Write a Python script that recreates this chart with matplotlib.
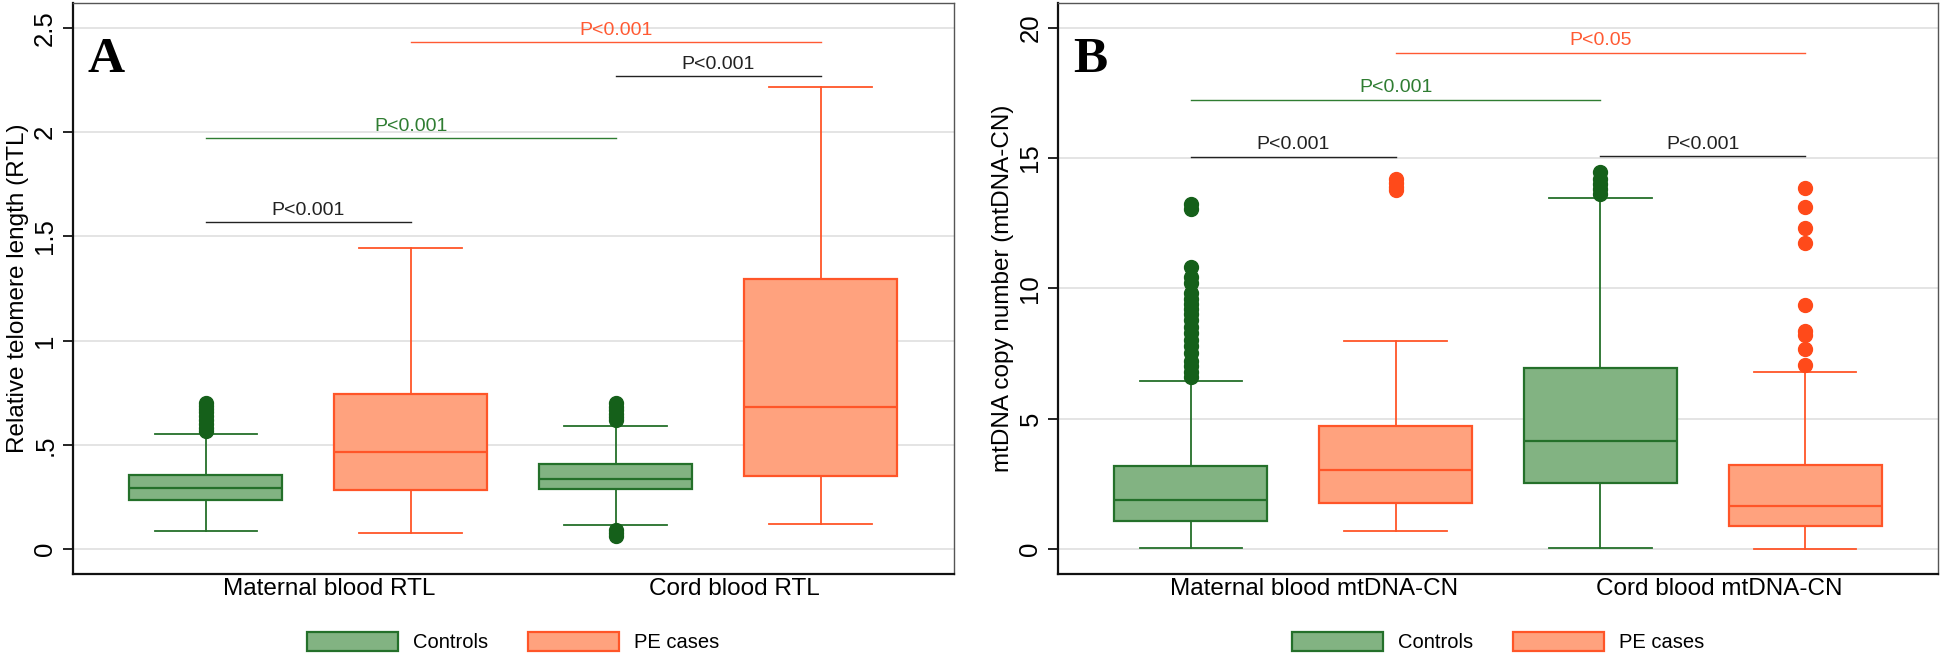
import matplotlib
matplotlib.use('Agg')
import matplotlib.pyplot as plt
from matplotlib.patches import Patch

plt.rcParams.update({
    'font.family': ['Liberation Sans', 'DejaVu Sans'],
    'axes.linewidth': 1.4,
})

# ── Data ────────────────────────────────────────────────────────────
groups = ['Controls', 'PE cases']

# Panel A: relative telomere length, order: maternal ctrl, maternal PE, cord ctrl, cord PE
rtl_q1 = [0.236, 0.281, 0.289, 0.350]
rtl_med = [0.292, 0.466, 0.337, 0.681]
rtl_q3 = [0.356, 0.743, 0.407, 1.297]
rtl_lo = [0.088, 0.075, 0.116, 0.118]
rtl_hi = [0.550, 1.443, 0.588, 2.217]
rtl_out = [
    [0.565, 0.58, 0.60, 0.62, 0.64, 0.655, 0.67, 0.685, 0.70],
    [],
    [0.06, 0.075, 0.09, 0.62, 0.635, 0.65, 0.665, 0.68, 0.70],
    [],
]
rtl_cats = ['Maternal blood RTL', 'Cord blood RTL']
rtl_ticks = [0, 0.5, 1, 1.5, 2, 2.5]
rtl_ticklabels = ['0', '.5', '1', '1.5', '2', '2.5']

# Panel B: mtDNA copy number
cn_q1 = [1.06, 1.75, 2.52, 0.87]
cn_med = [1.88, 3.02, 4.15, 1.66]
cn_q3 = [3.20, 4.72, 6.93, 3.22]
cn_lo = [0.03, 0.70, 0.03, 0.0]
cn_hi = [6.43, 7.97, 13.45, 6.78]
cn_out = [
    [6.6, 6.8, 7.0, 7.2, 7.5, 7.8, 8.0, 8.3, 8.5, 8.8, 9.0, 9.2, 9.4, 9.6,
     9.8, 10.2, 10.45, 10.8, 13.05, 13.25],
    [13.75, 13.9, 14.05, 14.2],
    [13.6, 13.8, 14.0, 14.2, 14.45],
    [7.07, 7.67, 8.2, 8.35, 9.35, 11.75, 12.3, 13.1, 13.84],
]
cn_cats = ['Maternal blood mtDNA-CN', 'Cord blood mtDNA-CN']
cn_ticks = [0, 5, 10, 15, 20]
cn_ticklabels = ['0', '5', '10', '15', '20']

# comparisons: (box i, box j, line height, label, kind)
rtl_comps = [
    (0, 1, 1.567, 'P<0.001', 'within'),
    (0, 2, 1.970, 'P<0.001', 'ctrl'),
    (2, 3, 2.267, 'P<0.001', 'within'),
    (1, 3, 2.431, 'P<0.001', 'case'),
]
cn_comps = [
    (0, 1, 15.04, 'P<0.001', 'within'),
    (0, 2, 17.23, 'P<0.001', 'ctrl'),
    (2, 3, 15.07, 'P<0.001', 'within'),
    (1, 3, 19.04, 'P<0.05', 'case'),
]

# ── Style ───────────────────────────────────────────────────────────
fill = {'Controls': '#82b382', 'PE cases': '#ffa27e'}
edge = {'Controls': '#24702a', 'PE cases': '#ff5528'}
dot = {'Controls': '#15601a', 'PE cases': '#ff4a1a'}
comp_col = {'within': '#222222', 'ctrl': '#2f7d32', 'case': '#ff5a33'}

positions = [1, 2, 3, 4]
cat_pos = [1.6, 3.58]


def draw_panel(ax, q1, med, q3, lo, hi, out, cats, ticks, ticklabels,
               ylim, ylabel, letter, comps):
    for y in ticks:
        ax.axhline(y, color='#dcdcdc', lw=1.1, zorder=0)
    for k, g in enumerate(groups):
        idx = [k, k + 2]
        stats = [{'q1': q1[i], 'med': med[i], 'q3': q3[i],
                  'whislo': lo[i], 'whishi': hi[i], 'fliers': out[i]}
                 for i in idx]
        ax.bxp(stats, positions=[positions[i] for i in idx], widths=0.746,
               capwidths=0.5, patch_artist=True, showfliers=True,
               boxprops=dict(facecolor=fill[g], edgecolor=edge[g], lw=1.6),
               medianprops=dict(color=edge[g], lw=1.6),
               whiskerprops=dict(color=edge[g], lw=1.3),
               capprops=dict(color=edge[g], lw=1.3),
               flierprops=dict(marker='o', markersize=10,
                               markerfacecolor=dot[g],
                               markeredgecolor=dot[g]),
               zorder=2)
    for i, j, h, lab, kind in comps:
        c = comp_col[kind]
        ax.plot([positions[i], positions[j]], [h, h], color=c, lw=1.0)
        ax.annotate(lab, xy=((positions[i] + positions[j]) / 2, h),
                    xytext=(0, 2.5), textcoords='offset points',
                    ha='center', va='bottom', fontsize=14, color=c)

    ax.set_xlim(0.35, 4.65)
    ax.set_ylim(*ylim)
    ax.set_yticks(ticks)
    ax.set_yticklabels(ticklabels, rotation=90, va='center', fontsize=18.5)
    ax.tick_params(axis='y', length=7, width=1.2, pad=4)
    ax.set_xticks(cat_pos)
    ax.set_xticklabels(cats, fontsize=17.5)
    ax.tick_params(axis='x', length=0, pad=3)
    ax.set_ylabel(ylabel, fontsize=17.5, labelpad=3)
    for s in ['top', 'right']:
        ax.spines[s].set_color('#555555')
        ax.spines[s].set_linewidth(1.0)
    for s in ['left', 'bottom']:
        ax.spines[s].set_color('#111111')
        ax.spines[s].set_linewidth(1.6)
    ax.text(0.017, 0.90, letter, transform=ax.transAxes, ha='left',
            va='center', fontsize=37, fontweight='bold',
            family='Liberation Serif')
    handles = [Patch(facecolor=fill[g], edgecolor=edge[g], lw=1.6)
               for g in groups]
    ax.legend(handles, groups, loc='center', bbox_to_anchor=(0.5, -0.119),
              ncol=2, frameon=False, fontsize=14.5, handlelength=4.5,
              handleheight=1.15, handletextpad=0.75, columnspacing=2.0)


fig = plt.figure(figsize=(19.44, 6.6), dpi=100)
axA = fig.add_axes([0.0373, 0.1303, 0.4534, 0.8647])
axB = fig.add_axes([0.5441, 0.1303, 0.4530, 0.8647])

draw_panel(axA, rtl_q1, rtl_med, rtl_q3, rtl_lo, rtl_hi, rtl_out, rtl_cats,
           rtl_ticks, rtl_ticklabels, (-0.12, 2.618),
           'Relative telomere length (RTL)', 'A', rtl_comps)
draw_panel(axB, cn_q1, cn_med, cn_q3, cn_lo, cn_hi, cn_out, cn_cats,
           cn_ticks, cn_ticklabels, (-0.96, 20.93),
           'mtDNA copy number (mtDNA-CN)', 'B', cn_comps)

fig.savefig('out.png', dpi=100, facecolor='white')
